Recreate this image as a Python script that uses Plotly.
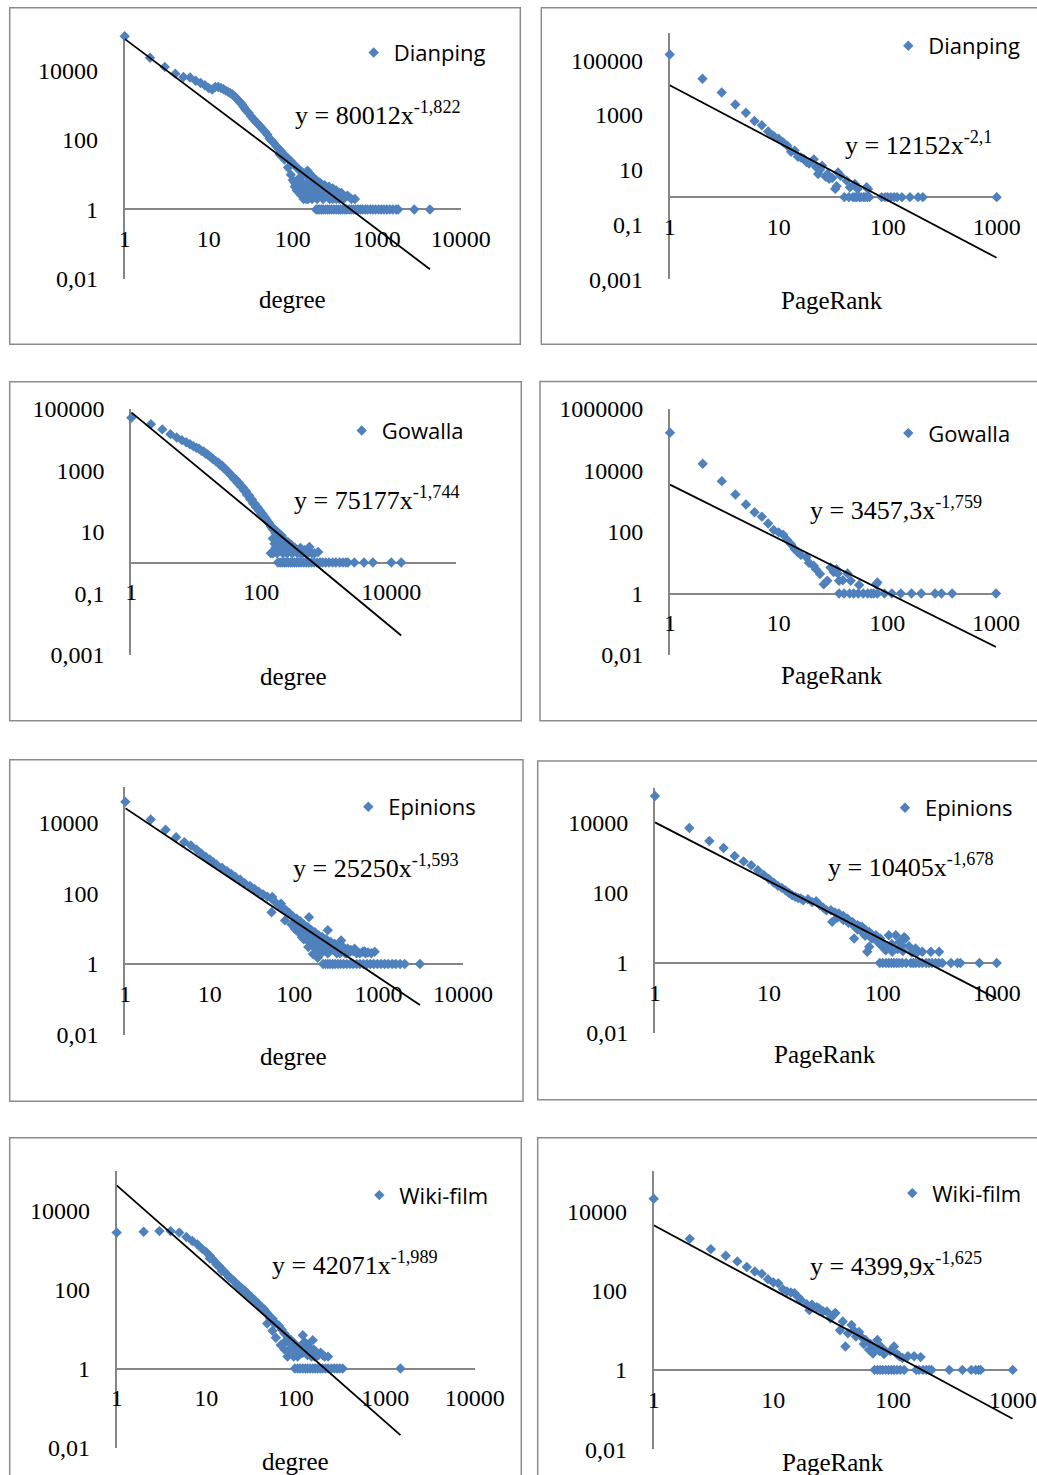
import plotly.graph_objects as go

W, H = 1037, 1475

# ---------------- data (x, count) ----------------
dianping_degree = [
    (1, 95000), (2, 23000), (3, 12500), (4, 8000), (5, 6400), (6, 6200), (7, 5000), (8, 4300), (9, 3700), (10, 3100),
    (11, 2800), (12, 3300), (13, 3300), (14, 3100), (15, 2850), (16, 2600), (17, 2400), (18, 2200), (19, 2050), (20, 1850),
    (21, 1650), (22, 1450), (23, 1280), (24, 1150), (25, 1030), (26, 900), (27, 790), (28, 700), (30, 590), (32, 470),
    (34, 400), (36, 340), (38, 300), (40, 260), (42, 230), (44, 200), (47, 170), (50, 140), (53, 110), (56, 95),
    (60, 80), (64, 65), (68, 56), (72, 48), (77, 40), (82, 34), (88, 29), (94, 25), (100, 21), (107, 18),
    (115, 15), (123, 13), (131, 11.5), (140, 10.5), (150, 9), (150, 13), (160, 8), (170, 7.5), (180, 6.5), (190, 6),
    (200, 5.5), (215, 5), (230, 4.5), (245, 4), (260, 4), (280, 3.5), (300, 3), (330, 3), (360, 3), (380, 3), (550, 2),
    (70, 38), (80, 27), (88, 16), (95, 10), (100, 7), (106, 4.5), (112, 3.5), (120, 3), (127, 2.5), (135, 2),
    (145, 2), (152, 2), (160, 3), (170, 2), (180, 3), (195, 2), (210, 3), (230, 2), (250, 3), (275, 2),
    (300, 2), (330, 2), (360, 2), (400, 2),
    (105, 6), (110, 5), (118, 4), (125, 4), (132, 3.5), (140, 3), (148, 3.5), (155, 2.5), (162, 2.5), (168, 3),
    (175, 2.5), (185, 2.5), (200, 2.5), (220, 3), (240, 2.5), (260, 3), (290, 2.5), (320, 2.5), (350, 2.5), (420, 2.2),
    (450, 2.5), (500, 2), (330, 3.5), (300, 4), (270, 4.5), (240, 5), (210, 6), (190, 7), (170, 9), (160, 10.5),
    (120, 8), (130, 6), (140, 5), (150, 6), (165, 4.5), (180, 4), (195, 4.5), (215, 3.5),
    (190, 1), (200, 1), (210, 1), (220, 1), (230, 1), (245, 1), (260, 1), (275, 1), (290, 1), (310, 1),
    (330, 1), (350, 1), (370, 1), (390, 1), (415, 1), (440, 1), (470, 1), (500, 1), (530, 1), (560, 1),
    (600, 1), (640, 1), (680, 1), (730, 1), (780, 1), (840, 1), (900, 1), (970, 1), (1050, 1), (1130, 1),
    (1220, 1), (1320, 1), (1430, 1), (1550, 1), (1700, 1), (1800, 1), (2800, 1), (4300, 1),
]

dianping_pagerank = [
    (1, 162000), (2, 21000), (3, 6600), (4, 2400), (5, 1200), (6, 600), (7, 420), (8, 250), (9, 170), (10, 135),
    (11, 100), (12, 75), (13, 45), (14, 50), (15, 30), (16, 28), (17, 25), (18, 19), (19, 17), (21, 24),
    (22, 12.5), (23, 7), (24, 10), (25, 14), (27, 5.5), (28, 7), (29, 4.7), (31, 5), (33, 2), (34, 2.5),
    (35, 8), (37, 6), (42, 4), (45, 2.3), (50, 3), (53, 2), (64, 2.3), (66, 2),
    (40, 1), (44, 1), (48, 1), (50, 1), (52, 1), (55, 1), (57, 1), (60, 1), (62, 1), (65, 1), (68, 1),
    (88, 1), (95, 1), (100, 1), (107, 1), (115, 1), (122, 1), (135, 1), (160, 1), (190, 1), (210, 1), (1000, 1),
]

gowalla_degree = [
    (1, 50000), (2, 31000), (3, 21000), (4, 14700), (5, 11400), (6, 9400), (7, 8000), (8, 6900), (9, 6000), (10, 5300),
    (12, 4200), (14, 3400), (16, 2800), (18, 2300), (20, 1950), (23, 1500), (26, 1200), (30, 900), (34, 680), (38, 520),
    (43, 390), (48, 300), (54, 220), (60, 160), (67, 115), (75, 82), (83, 62), (92, 48), (100, 38), (110, 30),
    (120, 25), (132, 19), (145, 14), (160, 12), (175, 10), (190, 8.5), (205, 7.5), (230, 5.5), (260, 4.5), (290, 3.7),
    (320, 3), (360, 2.5), (400, 2), (464, 2.5), (520, 2), (550, 3.2), (600, 2), (660, 2), (750, 2.2),
    (40, 520), (45, 400), (52, 280), (58, 210), (65, 150), (72, 110), (80, 80), (88, 62), (96, 48), (105, 38),
    (115, 29), (125, 21), (140, 15), (150, 12), (165, 9), (180, 7),
    (140, 2), (150, 2), (160, 4.1), (165, 3), (175, 2), (185, 4), (200, 3), (215, 2), (230, 4), (250, 2),
    (270, 3), (300, 2), (330, 3), (360, 2), (400, 3), (430, 2), (480, 2),
    (11, 5000), (13, 4000), (15, 3200), (17, 2600), (22, 1750), (25, 1400), (28, 1100), (32, 820), (36, 620),
    (150, 6), (170, 5), (190, 4), (210, 5), (240, 3), (280, 2.5),
    (180, 1), (195, 1), (210, 1), (225, 1), (240, 1), (260, 1), (280, 1), (300, 1), (325, 1), (350, 1),
    (380, 1), (410, 1), (450, 1), (490, 1), (540, 1), (590, 1), (650, 1), (720, 1), (800, 1), (880, 1),
    (980, 1), (1100, 1), (1250, 1), (1400, 1), (1600, 1), (1800, 1), (2000, 1), (2150, 1), (2700, 1), (3800, 1),
    (5200, 1), (10000, 1), (14200, 1),
]

gowalla_pagerank = [
    (1, 170000), (2, 16500), (3, 4500), (4, 1650), (5, 780), (6, 440), (7, 316), (8, 190), (9, 116), (10, 97),
    (11, 82), (12, 55), (13, 40), (14, 28), (15, 22), (16, 18), (18, 15), (19, 10), (21, 8), (22, 6.2),
    (24, 4.3), (26, 2), (28, 2.6), (30, 7), (32, 5), (34, 6.2), (35, 4.5), (36, 2.6), (39, 2.7), (43, 4.5),
    (46, 2.6), (55, 1.9), (79, 2), (81, 2.3),
    (36, 1), (40, 1), (45, 1), (49, 1), (54, 1), (60, 1), (66, 1), (71, 1), (75, 1), (81, 1),
    (94, 1), (110, 1), (133, 1), (167, 1), (205, 1), (275, 1), (315, 1), (395, 1), (1000, 1),
]

epinions_degree = [
    (1, 38000), (2, 12100), (3, 6200), (4, 3800), (5, 2770), (6, 2230), (7, 1700), (8, 1300), (9, 1050), (10, 900),
    (11, 750), (12, 650), (14, 520), (16, 420), (18, 350), (20, 290), (23, 240), (26, 192), (30, 160), (34, 132),
    (38, 110), (43, 92), (48, 80), (54, 70), (60, 55), (66, 46), (72, 40), (80, 33), (88, 27), (97, 22),
    (107, 19), (118, 16), (130, 13), (145, 11), (160, 9), (176, 7.9), (195, 6.5), (215, 5.8), (240, 5), (270, 4.2),
    (300, 3.7), (340, 3.3), (380, 3), (430, 2.7), (520, 2.7), (820, 2),
    (55, 78), (70, 50), (150, 21), (250, 9), (360, 4.6), (900, 2.2),
    (54, 29), (78, 17), (93, 13), (102, 9.8), (112, 7.9), (124, 5.7), (147, 3), (167, 1.9), (190, 1.5),
    (110, 14), (120, 12), (135, 10), (150, 8), (170, 7), (190, 5), (210, 4.5), (230, 3.5), (260, 3), (290, 3),
    (330, 2.5), (130, 8), (140, 6), (160, 5), (180, 4), (200, 3), (220, 2.5), (250, 2), (280, 2.5), (320, 2),
    (400, 2), (460, 2.2), (600, 2),
    (130, 5), (145, 4.5), (160, 3.5), (175, 3), (190, 2.5), (210, 2), (230, 2.8), (260, 2.2), (300, 2.5), (350, 2),
    (380, 2.5), (420, 2), (500, 2.3), (550, 2), (650, 2.2), (700, 2), (140, 9), (165, 6), (185, 6), (205, 5),
    (230, 4.2), (260, 3.7), (300, 3.2), (340, 3), (400, 2.6), (470, 2.5), (680, 2.3), (750, 2.1),
    (220, 1), (235, 1), (250, 1), (265, 1), (285, 1), (305, 1), (330, 1), (355, 1), (385, 1), (420, 1),
    (460, 1), (500, 1), (550, 1), (600, 1), (660, 1), (730, 1), (800, 1), (880, 1), (970, 1), (1070, 1),
    (1180, 1), (1300, 1), (1450, 1), (1600, 1), (1800, 1), (2040, 1), (3090, 1),
]

epinions_pagerank = [
    (1, 59000), (2, 7200), (3, 3050), (4, 1930), (5, 1140), (6, 800), (7, 620), (8, 445), (9, 330), (10, 250),
    (11, 198), (12, 160), (13, 140), (14, 119), (15, 100), (16, 86), (17, 78), (18, 72), (19, 70), (20, 62),
    (22, 66), (24, 55), (26, 58), (28, 45), (30, 38), (32, 32), (35, 32), (36, 15), (38, 28), (41, 26),
    (45, 22), (49, 18.5), (54, 15), (56, 5), (60, 12), (63, 11), (66, 10.7), (70, 9), (73, 2.1), (76, 7.7),
    (76, 2.9), (80, 6.5), (87, 6.2), (95, 5), (99, 2.9), (106, 2.3), (113, 6.2), (121, 2.1), (130, 6.2), (140, 4),
    (147, 3.2), (154, 5.5), (158, 5), (170, 3), (194, 2.6), (222, 2.1), (264, 2.1), (312, 2.1),
    (40, 20), (45, 17), (50, 14), (55, 12), (60, 9), (65, 8), (70, 6), (80, 5), (90, 4), (100, 3.5),
    (110, 3), (120, 3.5), (135, 2.5), (150, 2.2), (180, 2), (200, 2),
    (94, 1), (100, 1), (107, 1), (113, 1), (119, 1), (125, 1), (132, 1), (139, 1), (148, 1), (160, 1),
    (176, 1), (185, 1), (194, 1), (208, 1), (222, 1), (240, 1), (254, 1), (270, 1), (290, 1), (310, 1),
    (333, 1), (397, 1), (452, 1), (480, 1), (705, 1), (1000, 1),
]

wikifilm_degree = [
    (1, 2700), (2, 2830), (3, 2950), (4, 2950), (5, 2700), (6, 2090), (7, 1660), (8, 1350), (9, 1050), (10, 870),
    (11, 700), (12, 560), (13, 450), (14, 380), (15, 320), (16, 275), (17, 240), (19, 186), (21, 150), (23, 126),
    (25, 105), (27, 92), (29, 78), (32, 64), (35, 52), (38, 44), (42, 35), (46, 28), (50, 22), (55, 18),
    (60, 14), (65, 12), (70, 9.5), (75, 7.6), (82, 6), (89, 5.2), (97, 4.3), (105, 3.5), (120, 6.9), (125, 4.7),
    (135, 4), (145, 3.2), (155, 5.2), (165, 2.5), (180, 2.2), (210, 2),
    (48, 13.6), (55, 9), (60, 6), (68, 3.9), (75, 3), (81, 2), (85, 2.9), (95, 2), (105, 2), (120, 2.5),
    (135, 2.2), (150, 2), (162, 2),
    (11, 600), (13, 420), (15, 290), (18, 200), (20, 170), (22, 130), (24, 110), (26, 95), (28, 80), (31, 66),
    (34, 54), (37, 45), (40, 36), (44, 32), (48, 25), (52, 18), (57, 14),
    (70, 4), (78, 5), (88, 4), (92, 3), (100, 3), (110, 3.5), (115, 2.5), (128, 3), (140, 3.5), (148, 2.5),
    (160, 3), (170, 2), (190, 2.5), (200, 2.2), (230, 2),
    (98, 1), (105, 1), (112, 1), (120, 1), (128, 1), (136, 1), (145, 1), (155, 1), (165, 1), (176, 1),
    (188, 1), (200, 1), (215, 1), (230, 1), (250, 1), (270, 1), (290, 1), (310, 1), (335, 1), (1480, 1),
]

wikifilm_pagerank = [
    (1, 20500), (2, 2000), (3, 1100), (4, 750), (5, 540), (6, 390), (7, 300), (8, 263), (9, 193), (10, 159),
    (11, 152), (12, 108), (13, 95), (14, 89), (15, 86), (16, 70), (17, 58), (19, 45), (20, 32), (21, 44),
    (23, 38), (24, 36), (26, 30), (28, 29.5), (30, 20), (32, 25), (33, 27), (36, 10), (38, 16.5), (40, 3.9),
    (42, 8.4), (45, 13.6), (47, 10), (49, 6.9), (52, 9), (54, 6.9), (57, 4.5), (59, 5.7), (63, 3.2), (65, 4.5),
    (68, 2.6), (71, 3.5), (74, 5.7), (77, 3), (79, 3.9), (84, 2.5), (87, 2.9), (95, 3), (102, 3.9), (108, 2.5),
    (113, 2.2), (120, 2), (133, 2.2), (150, 2.2), (170, 2.1),
    (70, 1), (74, 1), (78, 1), (82, 1), (87, 1), (92, 1), (97, 1), (102, 1), (108, 1), (115, 1),
    (124, 1), (156, 1), (165, 1), (178, 1), (190, 1), (200, 1), (210, 1), (295, 1), (380, 1), (450, 1),
    (490, 1), (520, 1), (540, 1), (1000, 1),
]

series_names = ["Dianping", "Dianping", "Gowalla", "Gowalla", "Epinions", "Epinions", "Wiki-film", "Wiki-film"]
series_data = [dianping_degree, dianping_pagerank, gowalla_degree, gowalla_pagerank,
               epinions_degree, epinions_pagerank, wikifilm_degree, wikifilm_pagerank]
trend_a = [80012, 12152, 75177, 3457.3, 25250, 10405, 42071, 4399.9]
trend_b = [-1.822, -2.1, -1.744, -1.759, -1.593, -1.678, -1.989, -1.625]
trend_text = ["y = 80012x<sup>-1,822</sup>", "y = 12152x<sup>-2,1</sup>",
              "y = 75177x<sup>-1,744</sup>", "y = 3457,3x<sup>-1,759</sup>",
              "y = 25250x<sup>-1,593</sup>", "y = 10405x<sup>-1,678</sup>",
              "y = 42071x<sup>-1,989</sup>", "y = 4399,9x<sup>-1,625</sup>"]
axis_titles = ["degree", "PageRank", "degree", "PageRank", "degree", "PageRank", "degree", "PageRank"]

yt_a = [0.01, 1, 100, 10000]
yl_a = ["0,01", "1", "100", "10000"]
yt_b = [0.001, 0.1, 10, 1000, 100000]
yl_b = ["0,001", "0,1", "10", "1000", "100000"]
yt_c = [0.01, 1, 100, 10000, 1000000]
yl_c = ["0,01", "1", "100", "10000", "1000000"]
xt_4 = [1, 10, 100, 1000, 10000]
xl_4 = ["1", "10", "100", "1000", "10000"]
xt_3 = [1, 10, 100, 1000]
xl_3 = ["1", "10", "100", "1000"]
xt_5 = [1, 100, 10000]
xl_5 = ["1", "100", "10000"]

# ---------------- layout per panel (pixels) ----------------
panels = [
    dict(dx=(124.7, 460.7), dy=(35.5, 279.0), xr=(0, 4), yr=(-2, 5), yt=(yt_a, yl_a), xt=(xt_4, xl_4),
         frame=(9.7, 7.7, 520.3, 344.3), title=(292, 299.3), eq=(293, 113), leg=(376.3, 390.7, 52.7)),
    dict(dx=(669.7, 996.7), dy=(32.8, 279.3), xr=(0, 3), yr=(-3, 6), yt=(yt_b, yl_b), xt=(xt_3, xl_3),
         frame=(541.3, 7.7, 1045, 344.3), title=(832, 300), eq=(843, 143), leg=(911.3, 925.3, 46)),
    dict(dx=(131.3, 456.3), dy=(408.5, 655.0), xr=(0, 5), yr=(-3, 5), yt=(yt_b, yl_b), xt=(xt_5, xl_5),
         frame=(9.7, 381.7, 521.3, 720.7), title=(293, 676), eq=(292, 498.5), leg=(365.3, 378.7, 430.7)),
    dict(dx=(670.0, 996.0), dy=(409.0, 655.0), xr=(0, 3), yr=(-2, 6), yt=(yt_c, yl_c), xt=(xt_3, xl_3),
         frame=(540, 381.5, 1045, 720.7), title=(832, 675), eq=(808, 508.5), leg=(912, 925.3, 433.3)),
    dict(dx=(125.3, 463.0), dy=(787.0, 1034.7), xr=(0, 4), yr=(-2, 5), yt=(yt_a, yl_a), xt=(xt_4, xl_4),
         frame=(9.7, 759.7, 523, 1101.3), title=(293.7, 1056.3), eq=(291.3, 866.5), leg=(371.3, 385.3, 807)),
    dict(dx=(655.0, 996.7), dy=(788.0, 1033.0), xr=(0, 3), yr=(-2, 5), yt=(yt_a, yl_a), xt=(xt_3, xl_3),
         frame=(537.7, 761, 1045, 1099.7), title=(825.3, 1054), eq=(826, 865), leg=(907.7, 922, 808)),
    dict(dx=(116.7, 474.7), dy=(1170.5, 1447.7), xr=(0, 4), yr=(-2, 5), yt=(yt_a, yl_a), xt=(xt_4, xl_4),
         frame=(9.7, 1137.7, 521.3, 1480), title=(295.3, 1461), eq=(269.7, 1263), leg=(383, 396.3, 1195.3)),
    dict(dx=(653.7, 1012.7), dy=(1171.4, 1449.3), xr=(0, 3), yr=(-2, 5), yt=(yt_a, yl_a), xt=(xt_3, xl_3),
         frame=(537.7, 1137.7, 1045, 1480), title=(832.7, 1462.7), eq=(807.7, 1264.5), leg=(915.3, 929.3, 1193.3)),
]

BLUE = "#4F81BD"
AXIS = "#868686"
SERIF = "Liberation Serif"
SANS = "Open Sans"

fx = lambda px: px / W
fy = lambda py: 1 - py / H

fig = go.Figure()
shapes, annotations = [], []

for i, (pn, pts) in enumerate(zip(panels, series_data)):
    n = "" if i == 0 else str(i + 1)
    xs = [p[0] for p in pts]
    ys = [p[1] for p in pts]
    lg = "legend" if i == 0 else f"legend{i + 1}"
    fig.add_trace(go.Scatter(
        x=xs, y=ys, mode="markers", name=series_names[i], legend=lg,
        marker=dict(symbol="diamond", size=8, color=BLUE, line=dict(width=0)),
        xaxis="x" + n, yaxis="y" + n, cliponaxis=False, hoverinfo="skip"))
    xmax = max(xs)
    tx = [1, xmax]
    ty = [trend_a[i] * v ** trend_b[i] for v in tx]
    fig.add_trace(go.Scatter(
        x=tx, y=ty, mode="lines", showlegend=False, line=dict(color="black", width=1.8),
        xaxis="x" + n, yaxis="y" + n, cliponaxis=False, hoverinfo="skip"))

    ytop, ybot = pn["dy"]
    y0, y1 = pn["yr"]
    axis_py = ybot - (0 - y0) / (y1 - y0) * (ybot - ytop)
    common = dict(type="log", showline=True, linecolor=AXIS, linewidth=1.8, ticks="", showgrid=False,
                  zeroline=False, tickmode="array", automargin=False, layer="below traces",
                  tickfont=dict(family=SERIF, size=24, color="black"))
    fig.layout["xaxis" + n] = dict(common, range=list(pn["xr"]), domain=[fx(pn["dx"][0]), fx(pn["dx"][1])],
                                   anchor="free", position=fy(axis_py),
                                   tickvals=pn["xt"][0], ticktext=pn["xt"][1], ticklabelstandoff=8)
    fig.layout["yaxis" + n] = dict(common, range=list(pn["yr"]), domain=[fy(ybot), fy(ytop)],
                                   anchor="x" + n, tickvals=pn["yt"][0], ticktext=pn["yt"][1],
                                   ticklabelstandoff=20)

    dcx, tsx, ly = pn["leg"]
    fig.layout[lg] = dict(x=fx(tsx + 3 - 40), y=fy(ly), xanchor="left", yanchor="middle",
                          bgcolor="rgba(0,0,0,0)", borderwidth=0,
                          font=dict(family=SANS, size=22, color="black"))

    l, t, r, b = pn["frame"]
    shapes.append(dict(type="rect", xref="paper", yref="paper", x0=fx(l), x1=fx(r), y0=fy(b), y1=fy(t),
                       line=dict(color="#8C8C8C", width=1.5), fillcolor="rgba(0,0,0,0)", layer="below"))
    annotations.append(dict(text=axis_titles[i], xref="paper", yref="paper", x=fx(pn["title"][0]),
                            y=fy(pn["title"][1]), xanchor="center", yanchor="middle", showarrow=False,
                            font=dict(family=SERIF, size=25, color="black")))
    annotations.append(dict(text=trend_text[i], xref="paper", yref="paper", x=fx(pn["eq"][0]),
                            y=fy(pn["eq"][1]), xanchor="left", yanchor="middle", showarrow=False,
                            font=dict(family=SERIF, size=26, color="black")))

fig.update_layout(width=W, height=H, margin=dict(l=0, r=0, t=0, b=0), template="none",
                  paper_bgcolor="white", plot_bgcolor="rgba(0,0,0,0)", shapes=shapes,
                  annotations=annotations, hovermode=False)
fig.write_html("out.html", config={"displayModeBar": False},
               post_script="document.body.style.margin='0px';")
